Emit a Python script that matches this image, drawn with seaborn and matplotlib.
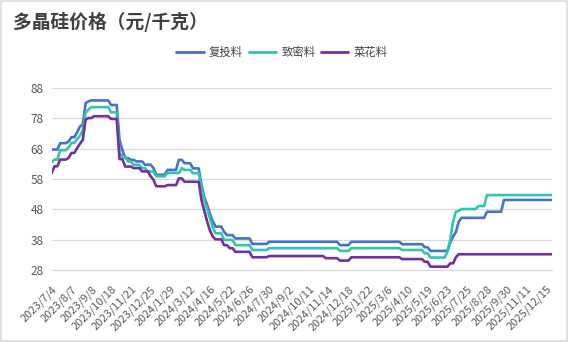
import numpy as np
import pandas as pd
import matplotlib
matplotlib.use("Agg")
import matplotlib.pyplot as plt
from matplotlib.lines import Line2D
from matplotlib.patches import Rectangle
import seaborn as sns

series_names = ["复投料", "致密料", "菜花料"]
series_colors = ["#4472C4", "#33C3B1", "#7030A0"]

tick_dates = ["2023/7/4", "2023/8/7", "2023/9/8", "2023/10/18", "2023/11/21",
              "2023/12/25", "2024/1/29", "2024/3/12", "2024/4/16", "2024/5/22",
              "2024/6/26", "2024/7/30", "2024/9/2", "2024/10/11", "2024/11/14",
              "2024/12/18", "2025/1/22", "2025/3/6", "2025/4/10", "2025/5/19",
              "2025/6/23", "2025/7/25", "2025/8/28", "2025/9/30", "2025/11/11",
              "2025/12/15"]
label_every = 7

recharge = [
    67.7, 67.7, 67.7, 69.8, 69.8, 69.8, 70.4, 71.8, 71.8, 73.4, 75.3, 76.0,
    83.0, 83.6, 83.9, 83.9, 83.9, 83.9, 83.9, 83.9, 83.9, 82.4, 82.4, 82.4,
    70.9, 67.6, 64.9, 64.9, 64.3, 64.3, 63.8, 63.8, 63.8, 62.7, 62.7, 62.7,
    61.6, 59.4, 59.4, 59.4, 59.4, 61.0, 61.0, 61.0, 61.0, 64.3, 64.3, 63.2,
    63.2, 63.2, 61.5, 61.5, 61.5,
    56.0, 52.0, 49.5, 46.5, 44.0, 42.3, 42.3, 42.3, 40.6, 39.5, 39.5, 39.5,
    38.4, 38.4, 38.4, 38.4, 38.4, 38.4, 36.6, 36.6, 36.6, 36.6, 36.6, 36.6,
    37.3, 37.3, 37.3, 37.3, 37.3, 37.3, 37.3, 37.3, 37.3, 37.3,
    37.3, 37.3, 37.3, 37.3, 37.3, 37.3, 37.3, 37.3, 37.3, 37.3,
    37.3, 37.3, 37.3, 37.3, 37.3,
    36.2, 36.2, 36.2, 36.2,
    37.3, 37.3, 37.3, 37.3, 37.3, 37.3, 37.3, 37.3, 37.3, 37.3,
    37.3, 37.3, 37.3, 37.3, 37.3, 37.3, 37.3, 37.3,
    36.5, 36.5, 36.5, 36.5, 36.5, 36.5, 36.5, 36.5, 35.5, 35.5,
    34.3, 34.3, 34.3, 34.3, 34.3, 34.3, 34.3, 37.0, 39.0, 40.5, 43.9,
    45.2, 45.2, 45.2, 45.2, 45.2, 45.2, 45.2, 45.2, 45.2,
    47.2, 47.2, 47.2, 47.2, 47.2, 47.2,
    51.1, 51.1, 51.1, 51.1, 51.1, 51.1, 51.1, 51.1, 51.1, 51.1,
    51.1, 51.1, 51.1, 51.1, 51.1, 51.1, 51.1, 51.1,
]

dense = [
    63.5, 64.4, 64.4, 67.5, 67.5, 67.5, 68.5, 69.9, 69.9, 71.2, 72.3, 74.0,
    79.8, 80.9, 81.7, 81.7, 81.7, 81.7, 81.7, 81.7, 81.7, 80.0, 80.0, 80.0,
    66.5, 65.4, 65.4, 63.8, 63.8, 62.7, 62.7, 62.7, 61.6, 61.6, 60.5, 60.5,
    60.5, 58.9, 58.9, 58.9, 58.9, 60.0, 60.0, 60.0, 60.0, 60.0, 61.6, 61.0,
    61.0, 61.0, 59.9, 59.9, 59.9,
    55.0, 51.0, 48.0, 45.0, 42.0, 40.1, 40.1, 40.1, 37.9, 37.9, 37.9, 37.9,
    36.2, 36.2, 36.2, 36.2, 36.2, 36.2, 34.6, 34.6, 34.6, 34.6, 34.6, 34.6,
    35.2, 35.2, 35.2, 35.2, 35.2, 35.2, 35.2, 35.2, 35.2, 35.2,
    35.2, 35.2, 35.2, 35.2, 35.2, 35.2, 35.2, 35.2, 35.2, 35.2,
    35.2, 35.2, 35.2, 35.2, 35.2,
    34.3, 34.3, 34.3, 34.3,
    35.2, 35.2, 35.2, 35.2, 35.2, 35.2, 35.2, 35.2, 35.2, 35.2,
    35.2, 35.2, 35.2, 35.2, 35.2, 35.2, 35.2, 35.2,
    34.6, 34.6, 34.6, 34.6, 34.6, 34.6, 34.6, 34.6, 33.5, 33.5,
    32.1, 32.1, 32.1, 32.1, 32.1, 32.1, 34.0, 38.0, 44.0, 47.2, 47.5,
    48.1, 48.1, 48.1, 48.1, 48.1, 48.1, 49.1, 49.1, 49.1,
    52.7, 52.7, 52.7, 52.7, 52.7, 52.7, 52.7, 52.7, 52.7, 52.7,
    52.7, 52.7, 52.7, 52.7, 52.7, 52.7, 52.7, 52.7, 52.7, 52.7,
    52.7, 52.7, 52.7, 52.7,
]

cauliflower = [
    60.0, 62.2, 62.2, 64.4, 64.4, 64.4, 65.0, 66.6, 66.6, 68.2, 69.6, 70.9,
    77.6, 78.1, 78.1, 78.7, 78.7, 78.7, 78.7, 78.7, 78.7, 77.8, 77.8, 77.8,
    64.6, 64.5, 62.1, 62.1, 62.1, 61.6, 61.6, 61.6, 60.5, 60.5, 60.5, 58.9,
    57.8, 55.6, 55.6, 55.6, 55.6, 56.0, 56.0, 56.0, 56.0, 58.2, 58.2, 57.1,
    57.1, 57.1, 57.1, 57.1, 57.1,
    51.0, 47.5, 44.0, 41.0, 39.0, 38.1, 38.1, 38.1, 36.2, 36.2, 35.2, 35.2,
    34.0, 34.0, 34.0, 34.0, 34.0, 34.0, 32.2, 32.2, 32.2, 32.2, 32.2, 32.2,
    32.6, 32.6, 32.6, 32.6, 32.6, 32.6, 32.6, 32.6, 32.6, 32.6,
    32.6, 32.6, 32.6, 32.6, 32.6, 32.6, 32.6, 32.6, 32.6, 32.6,
    31.9, 31.9, 31.9, 31.9, 31.9,
    31.1, 31.1, 31.1, 31.1,
    32.2, 32.2, 32.2, 32.2, 32.2, 32.2, 32.2, 32.2, 32.2, 32.2,
    32.2, 32.2, 32.2, 32.2, 32.2, 32.2, 32.2, 32.2,
    31.6, 31.6, 31.6, 31.6, 31.6, 31.6, 31.6, 31.6, 30.7, 30.7,
    29.1, 29.1, 29.1, 29.1, 29.1, 29.1, 29.1, 30.2, 30.2, 32.2, 33.2,
    33.2, 33.2, 33.2, 33.2, 33.2, 33.2, 33.2, 33.2, 33.2, 33.2,
    33.2, 33.2, 33.2, 33.2, 33.2, 33.2, 33.2, 33.2, 33.2, 33.2,
    33.2, 33.2, 33.2, 33.2, 33.2, 33.2, 33.2, 33.2, 33.2, 33.2,
    33.2, 33.2, 33.2,
]

y_ticks = [28, 38, 48, 58, 68, 78, 88]

assert len(recharge) == len(dense) == len(cauliflower), (len(recharge), len(dense), len(cauliflower))

sns.set_theme(style="white")
plt.rcParams["font.family"] = ["Noto Sans CJK SC", "DejaVu Sans"]

n = len(recharge)
df = pd.DataFrame({
    "idx": list(range(n)) * 3,
    "price": recharge + dense + cauliflower,
    "series": [s for s in series_names for _ in range(n)],
})

fig = plt.figure(figsize=(5.68, 3.42), dpi=100)
ax = fig.add_axes([0.091, 0.2105, 0.8808, 0.5322])
palette = dict(zip(series_names, series_colors))
sns.lineplot(data=df, x="idx", y="price", hue="series", palette=palette,
             linewidth=1.9, ax=ax, legend=False)

ax.set_xlim(0, n - 1)
ax.set_ylim(28, 88)
ax.set_yticks(y_ticks)
ax.set_yticklabels([str(t) for t in y_ticks], fontsize=8.5, color="#595959")
ax.tick_params(axis="y", length=0, pad=6)
ax.yaxis.grid(True, color="#d9d9d9", linewidth=0.9)
ax.set_axisbelow(True)

label_pos = list(range(0, label_every * len(tick_dates), label_every))
ax.set_xticks(label_pos)
ax.set_xticklabels(tick_dates, rotation=45, ha="right", rotation_mode="anchor",
                   fontsize=8, color="#595959")
ax.set_xticks(np.arange(0, n, 2), minor=True)
ax.tick_params(axis="x", which="major", length=0, pad=10)
ax.tick_params(axis="x", which="minor", length=3.5, color="#d9d9d9", width=0.9)

ax.set_xlabel("")
ax.set_ylabel("")
for side in ["top", "right", "left"]:
    ax.spines[side].set_visible(False)
ax.spines["bottom"].set_color("#d9d9d9")
ax.spines["bottom"].set_linewidth(0.9)

handles = [Line2D([0], [0], color=c, lw=2) for c in series_colors]
fig.legend(handles, series_names, loc="center", bbox_to_anchor=(282 / 568, 1 - 52 / 342),
           ncol=3, frameon=False, fontsize=8.2, handlelength=2.4, handletextpad=0.45,
           columnspacing=0.5, labelcolor="#404040")

fig.text(13 / 568, 1 - 22 / 342, "多晶硅价格（元/千克）", fontsize=13.5,
         fontweight="bold", color="#404040", va="center", ha="left")

fig.patches.append(Rectangle((0.002, 0.003), 0.996, 0.994, transform=fig.transFigure,
                             fill=False, edgecolor="#d9d9d9", linewidth=1.2))

fig.savefig("out.png", dpi=100)
